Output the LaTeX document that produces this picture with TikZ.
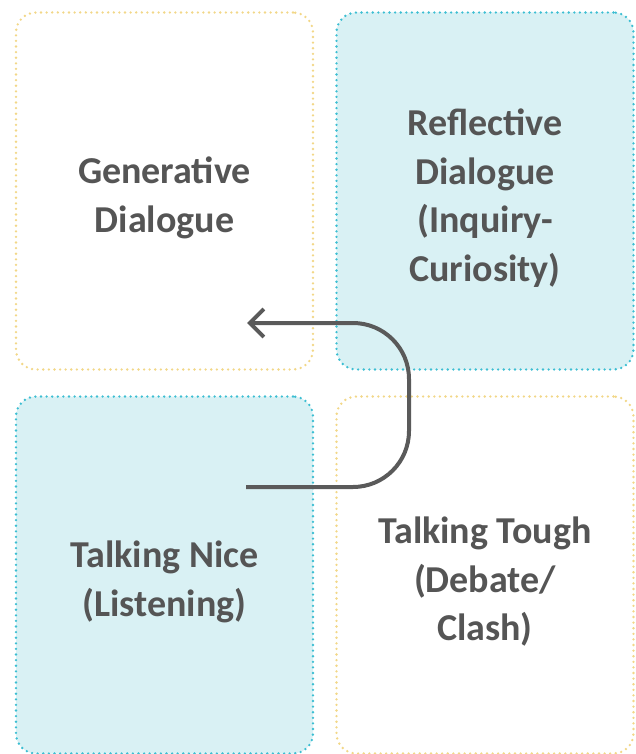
\documentclass[tikz,border=0pt]{standalone}
\usepackage{fontspec}
\setmainfont{Carlito}
\usetikzlibrary{arrows.meta}
\definecolor{dotyellow}{RGB}{242,215,135}
\definecolor{dotcyan}{RGB}{60,190,210}
\definecolor{paleblue}{RGB}{217,241,244}
\definecolor{inkgray}{RGB}{85,85,85}
\definecolor{arrowgray}{RGB}{90,90,90}
\begin{document}
\begin{tikzpicture}[x=1pt,y=1pt,
	quad/.style={draw, rounded corners=20pt, line width=2.6pt, line cap=round,
		dash pattern=on 0pt off 5.6pt, minimum width=297pt, minimum height=357pt},
	warm/.style={quad, draw=dotyellow, fill=white},
	cool/.style={quad, draw=dotcyan, fill=paleblue},
	words/.style={align=center, text=inkgray, font=\fontsize{38}{48.5}\selectfont\bfseries}]
	\useasboundingbox (0,0) rectangle (635,-754);
	\node	(gen) at (164.5,-191) [warm] {};
	\node	(refl) at (485,-191) [cool] {};
	\node	(nice) at (164.5,-575) [cool] {};
	\node	(tough) at (485,-575) [warm] {};
	
	\node	(gentext) at ([yshift=-7pt]gen.center) [words] {Generative\\Dialogue};
	\node	(refltext) at ([yshift=-7pt]refl.center) [words] {Reflective\\Dialogue\\(Inquiry-\\Curiosity)};
	\node	(nicetext) at ([yshift=-7pt]nice.center) [words] {Talking Nice\\(Listening)};
	\node	(toughtext) at ([yshift=-7pt]tough.center) [words] {Talking Tough\\(Debate/\\Clash)};
	
	\coordinate (from) at (246,-487);
	\coordinate (to) at (247,-323);
	\draw[arrowgray, line width=4pt, rounded corners=56pt, -{Straight Barb[length=14pt,width=28pt]}]
		(from) -| (409,-323) -- (to);
\end{tikzpicture}
\end{document}
